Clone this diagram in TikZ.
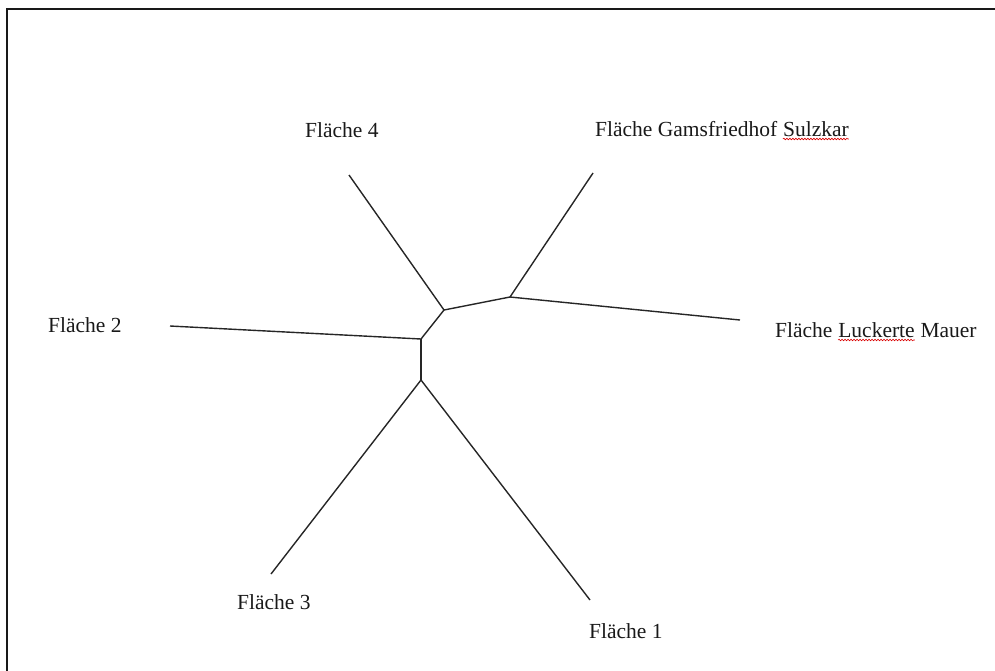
\documentclass[tikz,border=0pt]{standalone}
\usepackage{fontspec}
\setmainfont{Liberation Serif}
\usetikzlibrary{decorations.pathmorphing}
\begin{document}
\begin{tikzpicture}[x=1pt,y=-1pt,
  edge/.style={draw=black!85,line width=1.4pt},
  lbl/.style={font=\fontsize{21.5}{24}\selectfont,inner sep=0pt,text=black!90,anchor=base west},
  spell/.style={draw=red!85!black,line width=0.6pt,decorate,decoration={snake,amplitude=0.8pt,segment length=3pt}}]
\useasboundingbox (0,0) rectangle (995,670);
\begin{scope}
\clip (0,0) rectangle (995,670);
\draw[line width=2.2pt,black!90] (7,9) rectangle (1005,690);
\end{scope}
% inner junctions
\coordinate (a) at (444,310);
\coordinate (b) at (510,297);
\coordinate (c) at (421,339);
\coordinate (d) at (421,380);
% leaf ends
\coordinate (e4) at (349,175);
\coordinate (eg) at (593,173);
\coordinate (el) at (740,320);
\coordinate (e2) at (170,326);
\coordinate (e3) at (271,574);
\coordinate (e1) at (590,600);
\draw[edge] (a) -- (b);
\draw[edge] (a) -- (c);
\draw[edge] (c) -- (d);
\draw[edge] (a) -- (e4);
\draw[edge] (b) -- (eg);
\draw[edge] (b) -- (el);
\draw[edge] (c) -- (e2);
\draw[edge] (d) -- (e3);
\draw[edge] (d) -- (e1);
% labels
\node[lbl] (l4) at (305,137) {Fläche 4};
\node[lbl] (lg) at (595,136) {Fläche Gamsfriedhof};
\node[lbl] (lgs) at ([xshift=5.4pt]lg.base east) {Sulzkar};
\node[lbl] (l2) at (48,332) {Fläche 2};
\node[lbl] (ll) at (775,337) {Fläche};
\node[lbl] (llu) at ([xshift=5.4pt]ll.base east) {Luckerte};
\node[lbl] (llm) at ([xshift=5.4pt]llu.base east) {Mauer};
\node[lbl] (l3) at (237,609) {Fläche 3};
\node[lbl] (l1) at (589,638) {Fläche 1};
\draw[spell] ([yshift=-3pt]lgs.base west) -- ([yshift=-3pt]lgs.base east);
\draw[spell] ([yshift=-3pt]llu.base west) -- ([yshift=-3pt]llu.base east);
\end{tikzpicture}
\end{document}
